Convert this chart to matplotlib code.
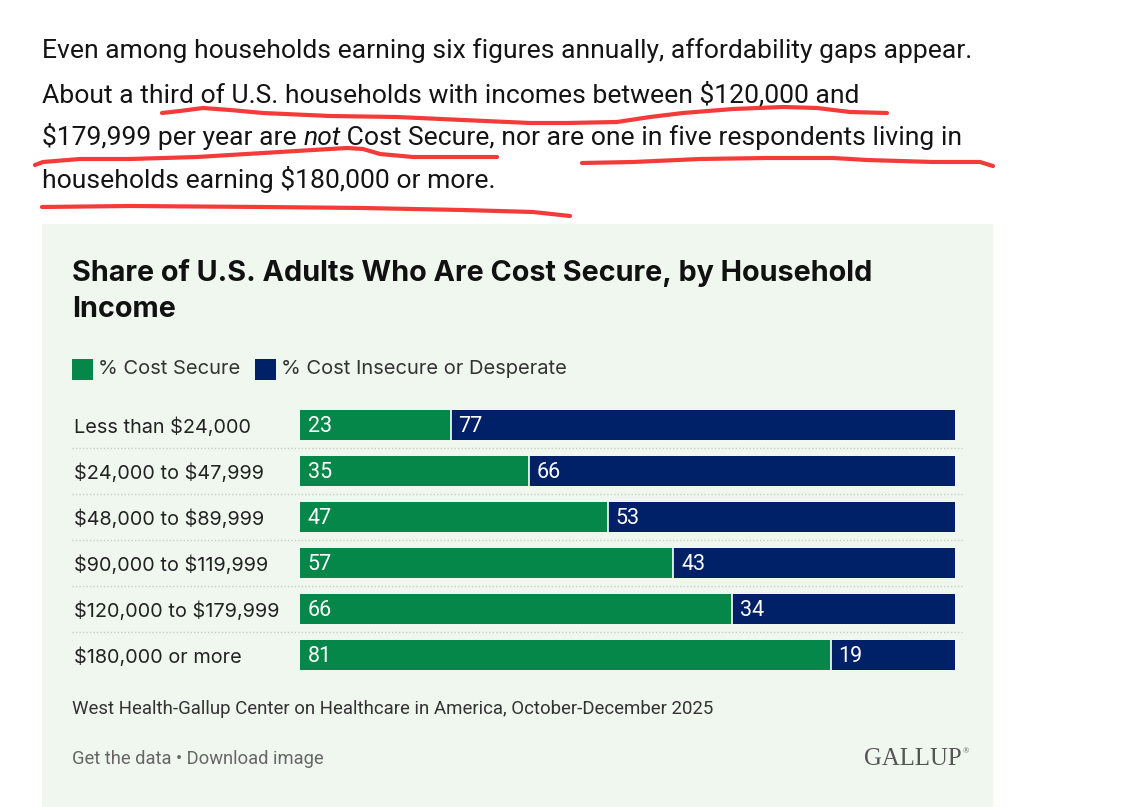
import matplotlib
matplotlib.use('Agg')
import matplotlib.pyplot as plt
import matplotlib.transforms as mtransforms
from matplotlib.patches import Rectangle

plt.rcParams['text.parse_math'] = False

# datos del grafico
categorias = ['Less than $24,000', '$24,000 to $47,999', '$48,000 to $89,999',
              '$90,000 to $119,999', '$120,000 to $179,999', '$180,000 or more']
seguro = [23, 35, 47, 57, 66, 81]
inseguro = [77, 66, 53, 43, 34, 19]
series = ['% Cost Secure', '% Cost Insecure or Desperate']

titulo = ['Share of U.S. Adults Who Are Cost Secure, by Household', 'Income']
fuente = 'West Health-Gallup Center on Healthcare in America, October-December 2025'
enlaces = 'Get the data \u2022 Download image'

parrafo_1 = 'Even among households earning six figures annually, affordability gaps appear.'
parrafo_2 = 'About a third of U.S. households with incomes between $120,000 and'
parrafo_3 = ['$179,999 per year are ', 'not', ' Cost Secure, nor are one in five respondents living in']
parrafo_4 = 'households earning $180,000 or more.'

# subrayados a mano (pixeles de la captura)
trazo_1_x = [162, 180, 203, 230, 263, 330, 397, 463, 530, 567, 617, 650, 683, 733, 783, 817, 850, 887]
trazo_1_y = [113, 111, 108, 110, 113, 116, 117, 120, 123, 123, 122, 117, 113, 109, 107, 108, 112, 113]
trazo_2_x = [35, 43, 80, 130, 197, 263, 313, 347, 363, 380, 413, 463, 497]
trazo_2_y = [165, 162, 159, 159, 157, 153, 150, 148, 149, 154, 157, 157, 157]
trazo_3_x = [582, 633, 700, 767, 833, 867, 933, 980, 993]
trazo_3_y = [163, 162, 159, 158, 158, 160, 162, 162, 166]
trazo_4_x = [42, 130, 263, 363, 463, 533, 570]
trazo_4_y = [207, 206, 207, 208, 210, 212, 216]

verde = '#06874a'
azul = '#002068'
fondo = '#f0f7ef'

W, H = 1126, 807
fig = plt.figure(figsize=(W / 100, H / 100), dpi=100)

bg = fig.add_axes([0, 0, 1, 1])
bg.set_xlim(0, W)
bg.set_ylim(H, 0)
bg.axis('off')

bg.add_patch(Rectangle((42, 224), 951, 600, facecolor=fondo, edgecolor='none'))

# parrafo superior
fp = dict(family='Roboto', fontsize=19.05, color='#141414', va='baseline')
bg.text(42, 58, parrafo_1, **fp)
bg.text(42, 102, parrafo_2, **fp)
bg.text(42, 188, parrafo_4, **fp)

renderer = fig.canvas.get_renderer()
x_actual = 42
for i, trozo in enumerate(parrafo_3):
    t = bg.text(x_actual, 145, trozo, style='italic' if i == 1 else 'normal', **fp)
    bb = t.get_window_extent(renderer)
    x_actual += bb.width

for tx, ty in [(trazo_1_x, trazo_1_y), (trazo_2_x, trazo_2_y),
               (trazo_3_x, trazo_3_y), (trazo_4_x, trazo_4_y)]:
    bg.plot(tx, ty, color='#f53a3a', lw=3, solid_capstyle='round', solid_joinstyle='round')

# titulo
bg.text(72, 281, titulo[0], family='Inter', fontweight='bold', fontsize=20.7, color='#111111', va='baseline')
bg.text(72, 317, titulo[1], family='Inter', fontweight='bold', fontsize=20.7, color='#111111', va='baseline')

# leyenda
bg.add_patch(Rectangle((72, 359), 21, 21, facecolor=verde, edgecolor='none'))
bg.text(98, 369, series[0], family='Inter', fontsize=14.5, color='#333333', va='center')
bg.add_patch(Rectangle((255, 359), 21, 21, facecolor=azul, edgecolor='none'))
bg.text(281, 369, series[1], family='Inter', fontsize=14.5, color='#333333', va='center')

# barras
ax = fig.add_axes([300 / W, 1 - 678 / H, 655 / W, 276 / H])
ax.set_facecolor('none')
filas = list(range(len(categorias)))
alto = 30 / 46
ax.barh(filas, seguro, height=alto, color=verde, linewidth=0)
ax.barh(filas, inseguro, left=seguro, height=alto, color=azul, linewidth=0)
ax.vlines(seguro, [f - alto / 2 for f in filas], [f + alto / 2 for f in filas], color='white', lw=1.2)
ax.set_xlim(0, 100)
ax.set_ylim(len(categorias) - 0.5, -0.5)
ax.axis('off')

base = 7.5 / 46  # linea base del texto respecto al centro de la fila
for f in filas:
    ax.text(1.2, f + base, str(seguro[f]), color='white', fontsize=15.5, family='Roboto', va='baseline')
    ax.text(seguro[f] + 1.2, f + base, str(inseguro[f]), color='white', fontsize=15.5, family='Roboto', va='baseline')

mixto = mtransforms.blended_transform_factory(bg.transData, ax.transData)
for f in filas:
    ax.text(74, f + base, categorias[f], transform=mixto, family='Inter', fontsize=14.3,
            color='#222222', va='baseline', clip_on=False)
    if f > 0:
        ax.plot([72, 962], [f - 0.5, f - 0.5], transform=mixto, color='#c9ccc9',
                lw=1, ls=(0, (1, 1.5)), clip_on=False)

# pie
bg.text(72, 709, fuente, family='Roboto', fontsize=13.4, color='#333333', va='center')
bg.text(72, 759, enlaces, family='Roboto', fontsize=13.2, color='#666666', va='center')
bg.text(962, 759, 'GALLUP', family='Liberation Serif', fontsize=17.8, color='#555555', va='center', ha='right')
bg.text(963, 751, '\u00ae', family='Liberation Serif', fontsize=6, color='#555555', va='center', ha='left')

fig.savefig('out.png', dpi=100, facecolor='white')
